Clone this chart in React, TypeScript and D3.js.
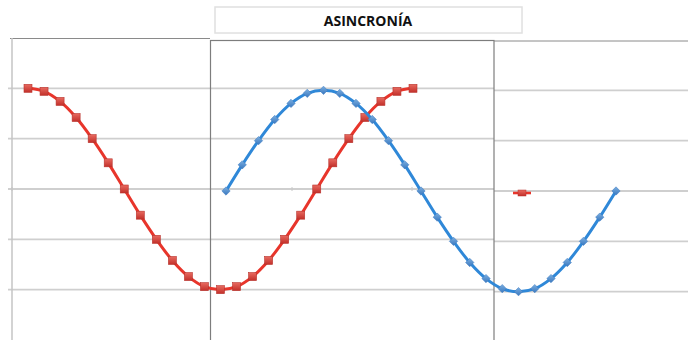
import React from "react";
import * as d3 from "d3";

const W = 688;
const H = 340;

const title = "ASINCRONÍA";
const steps = d3.range(0, 25);
const redValues = [1, 0.97, 0.87, 0.71, 0.5, 0.26, 0, -0.26, -0.5, -0.71, -0.87, -0.97, -1, -0.97, -0.87, -0.71, -0.5, -0.26, 0, 0.26, 0.5, 0.71, 0.87, 0.97, 1];
const blueValues = [0, 0.26, 0.5, 0.71, 0.87, 0.97, 1, 0.97, 0.87, 0.71, 0.5, 0.26, 0, -0.26, -0.5, -0.71, -0.87, -0.97, -1, -0.97, -0.87, -0.71, -0.5, -0.26, 0];
const gridValues = [1, 0.5, 0, -0.5, -1];
const tickSteps = [0, 5, 10, 15, 20, 25];
const tickSteps2 = [0, 5, 10, 15];

export default function App() {
  const yRed = d3.scaleLinear().domain([-1.5, 1.5]).range([340, 38]);
  const yBlue = d3.scaleLinear().domain([-1.5, 1.5]).range([342, 40]);
  const xRed = d3.scaleLinear().domain([0, 24]).range([28, 413]);
  const xBlue = d3.scaleLinear().domain([0, 24]).range([226, 616]);
  const xTick = d3.scaleLinear().domain([0, 5]).range([12, 92]);
  const xTick2 = d3.scaleLinear().domain([0, 5]).range([292, 372]);

  const redLine = d3
    .line<number>()
    .x((_, i) => xRed(steps[i]))
    .y((d) => yRed(d))
    .curve(d3.curveCatmullRom);
  const blueLine = d3
    .line<number>()
    .x((_, i) => xBlue(steps[i]))
    .y((d) => yBlue(d))
    .curve(d3.curveCatmullRom);

  const legendY = yBlue(0) + 2;

  return (
    <svg
      width={W}
      height={H}
      style={{ position: "absolute", left: 0, top: 0, background: "#fff" }}
      fontFamily="'Open Sans', 'Liberation Sans', Arial, sans-serif"
    >
      <defs>
        <linearGradient id="redg" x1="0" y1="0" x2="0" y2="1">
          <stop offset="0" stopColor="#e86a60" />
          <stop offset="1" stopColor="#c2302a" />
        </linearGradient>
        <linearGradient id="blueg" x1="0" y1="0" x2="0" y2="1">
          <stop offset="0" stopColor="#7aaee0" />
          <stop offset="1" stopColor="#3a78bf" />
        </linearGradient>
      </defs>

      {/* gridlines */}
      {gridValues.map((v) => (
        <g key={"g" + v}>
          <line x1={8} x2={494} y1={yRed(v)} y2={yRed(v)} stroke="#cfcfcf" strokeWidth={1.8} />
          <line x1={494} x2={688} y1={yBlue(v)} y2={yBlue(v)} stroke="#cfcfcf" strokeWidth={1.8} />
        </g>
      ))}

      {/* x-axis ticks */}
      {tickSteps.map((t) => (
        <line key={"t" + t} x1={xTick(t * 5)} x2={xTick(t * 5)} y1={yRed(0) - 2} y2={yRed(0) + 2} stroke="#c8c8c8" strokeWidth={1} />
      ))}
      {tickSteps2.map((t) => (
        <line key={"u" + t} x1={xTick2(t * 5)} x2={xTick2(t * 5)} y1={yRed(0) - 2} y2={yRed(0) + 2} stroke="#c8c8c8" strokeWidth={1} />
      ))}

      {/* frames */}
      <line x1={10} x2={210} y1={38.5} y2={38.5} stroke="#8a8a8a" strokeWidth={1} />
      <line x1={12} x2={12} y1={38} y2={340} stroke="#c4c4c4" strokeWidth={1.5} />
      <rect x={210.5} y={40.5} width={283.5} height={310} fill="none" stroke="#7d7d7d" strokeWidth={1.2} />
      <line x1={494} x2={688} y1={41} y2={41} stroke="#8a8a8a" strokeWidth={1} />

      {/* title */}
      <rect x={215} y={7} width={307} height={26} fill="#fff" stroke="#e0e0e0" strokeWidth={1.5} />
      <text x={368} y={26} textAnchor="middle" fontSize={14} fontWeight="bold" fill="#111">
        {title}
      </text>

      {/* red series */}
      <path d={redLine(redValues) || ""} fill="none" stroke="#e8352b" strokeWidth={3} />
      {redValues.map((v, i) => (
        <rect
          key={"r" + i}
          x={xRed(steps[i]) - 4}
          y={yRed(v) - 4}
          width={8}
          height={8}
          fill="url(#redg)"
          stroke="#b8322c"
          strokeWidth={0.6}
        />
      ))}

      {/* blue series */}
      <path d={blueLine(blueValues) || ""} fill="none" stroke="#2f88d8" strokeWidth={3} />
      {blueValues.map((v, i) => {
        const cx = xBlue(steps[i]);
        const cy = yBlue(v);
        return (
          <path
            key={"b" + i}
            d={`M${cx},${cy - 4.2}L${cx + 4.2},${cy}L${cx},${cy + 4.2}L${cx - 4.2},${cy}Z`}
            fill="url(#blueg)"
            stroke="#3a78bf"
            strokeWidth={0.5}
          />
        );
      })}

      {/* stray legend marker */}
      <line x1={513} x2={531} y1={legendY} y2={legendY} stroke="#e8352b" strokeWidth={2.6} />
      <rect x={518} y={legendY - 3} width={8} height={6} fill="url(#redg)" stroke="#b8322c" strokeWidth={0.5} />
    </svg>
  );
}
